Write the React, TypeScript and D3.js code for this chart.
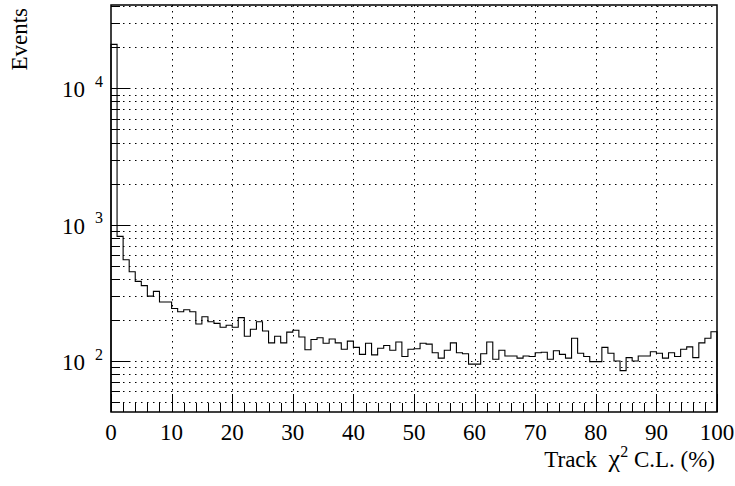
import React from "react";
import * as d3 from "d3";

const BIN_COUNTS: number[] = [
  21000, 820, 553, 451, 384, 357, 299, 324, 271, 271,
  243, 230, 238, 230, 187, 211, 194, 189, 177, 183,
  177, 208, 152, 171, 194, 166, 136, 152, 136, 163,
  168, 150, 121, 144, 148, 135, 145, 136, 122, 140,
  126, 112, 135, 111, 124, 130, 120, 138, 108, 122,
  123, 135, 133, 115, 105, 120, 136, 115, 113, 95,
  95, 113, 138, 103, 120, 109, 109, 105, 109, 108,
  115, 116, 103, 119, 112, 105, 147, 114, 108, 99,
  99, 126, 114, 100, 85, 106, 100, 109, 109, 117,
  114, 105, 115, 108, 122, 127, 106, 136, 147, 164,
];
const X_DOMAIN: [number, number] = [0, 100];
const Y_DOMAIN: [number, number] = [42.3, 40800];
const X_MAJOR_TICKS: number[] = [0, 10, 20, 30, 40, 50, 60, 70, 80, 90, 100];
const X_MINOR_STEP = 2;
const Y_DECADES: number[] = [1, 2, 3, 4];
const Y_LABEL_DECADES: number[] = [2, 3, 4];
const X_TITLE_PARTS = ["Track\u00a0\u00a0", "χ", "2", " C.L. (%)"];
const Y_TITLE = "Events";

const W = 735;
const H = 486;
const L = 111, R = 717, T = 5, B = 412;
const FONT = "'Liberation Serif', 'Times New Roman', Times, serif";

export default function App() {
  const x = d3.scaleLinear().domain(X_DOMAIN).range([L, R]);
  const y = d3.scaleLog().domain(Y_DOMAIN).range([B, T]);

  const yMajor: number[] = [];
  const yMinor: number[] = [];
  Y_DECADES.forEach((d) => {
    const base = Math.pow(10, d);
    for (let k = 1; k <= 9; k++) {
      const v = k * base;
      if (v >= Y_DOMAIN[0] && v <= Y_DOMAIN[1]) (k === 1 ? yMajor : yMinor).push(v);
    }
  });
  const yAll = [...yMajor, ...yMinor];

  const xMinor = d3.range(X_DOMAIN[0], X_DOMAIN[1] + 0.001, X_MINOR_STEP).filter((v) => v % 10 !== 0);

  const pts: [number, number][] = [[0, Y_DOMAIN[0]]];
  BIN_COUNTS.forEach((c, i) => pts.push([i, c]));
  pts.push([BIN_COUNTS.length, BIN_COUNTS[BIN_COUNTS.length - 1]]);
  pts.push([BIN_COUNTS.length, Y_DOMAIN[0]]);
  const line = d3
    .line<[number, number]>()
    .x((d) => x(d[0]))
    .y((d) => Math.min(B, Math.max(T, y(d[1]))))
    .curve(d3.curveStepAfter);

  const snap = (v: number) => Math.round(v) + 0.5;

  return (
    <svg width={W} height={H} style={{ position: "absolute", left: 0, top: 0, background: "#fff" }} fontFamily={FONT}>
      <rect x={0} y={0} width={W} height={H} fill="#fff" />
      <g stroke="#000" strokeWidth={1} strokeDasharray="1.5,4.5" fill="none">
        {yAll.map((v) => (
          <line key={"gy" + v} x1={L} x2={R} y1={snap(y(v))} y2={snap(y(v))} />
        ))}
        {X_MAJOR_TICKS.filter((v) => v > X_DOMAIN[0] && v < X_DOMAIN[1]).map((v) => (
          <line key={"gx" + v} x1={snap(x(v))} x2={snap(x(v))} y1={T} y2={B} />
        ))}
      </g>
      <path d={line(pts) || ""} fill="none" stroke="#000" strokeWidth={1.1} />
      <g stroke="#000" strokeWidth={1}>
        {X_MAJOR_TICKS.map((v) => (
          <line key={"xt" + v} x1={snap(x(v))} x2={snap(x(v))} y1={B} y2={B - 18} />
        ))}
        {xMinor.map((v) => (
          <line key={"xm" + v} x1={snap(x(v))} x2={snap(x(v))} y1={B} y2={B - 9} />
        ))}
        {yMajor.map((v) => (
          <line key={"yt" + v} x1={L} x2={L + 18} y1={snap(y(v))} y2={snap(y(v))} />
        ))}
        {yMinor.map((v) => (
          <line key={"ym" + v} x1={L} x2={L + 9} y1={snap(y(v))} y2={snap(y(v))} />
        ))}
      </g>
      <rect x={L} y={T} width={R - L} height={B - T} fill="none" stroke="#000" strokeWidth={1.5} />
      <g fontSize={23} textAnchor="middle" fill="#000">
        {X_MAJOR_TICKS.map((v) => (
          <text key={"xl" + v} x={x(v)} y={440}>
            {v}
          </text>
        ))}
      </g>
      <g fill="#000">
        {Y_LABEL_DECADES.map((d) => {
          const yy = y(Math.pow(10, d));
          return (
            <g key={"yl" + d}>
              <text x={62} y={yy + 9} fontSize={23}>10</text>
              <text x={95} y={yy - 1.5} fontSize={16}>{d}</text>
            </g>
          );
        })}
      </g>
      <text x={715} y={467} fontSize={23} textAnchor="end" fill="#000">
        {X_TITLE_PARTS[0]}
        <tspan fontSize={26}>{X_TITLE_PARTS[1]}</tspan>
        <tspan dy={-10} fontSize={16}>{X_TITLE_PARTS[2]}</tspan>
        <tspan dy={10}>{X_TITLE_PARTS[3]}</tspan>
      </text>
      <text transform="translate(27,8) rotate(-90)" fontSize={23} textAnchor="end" fill="#000">
        {Y_TITLE}
      </text>
    </svg>
  );
}
